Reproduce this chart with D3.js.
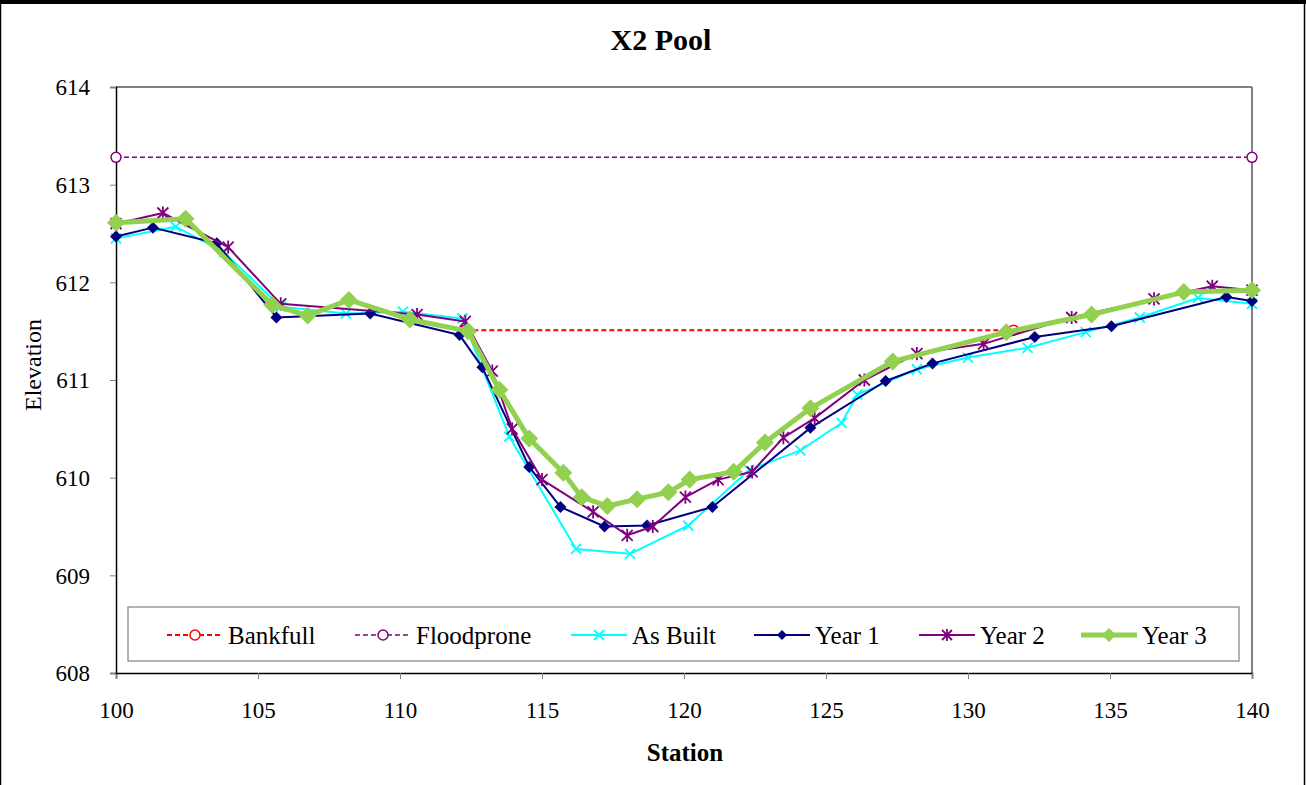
<!DOCTYPE html>
<html>
<head>
<meta charset="utf-8">
<script src="https://cdn.jsdelivr.net/npm/d3@7"></script>
<style>
  html, body { margin: 0; padding: 0; background: #fff; }
  svg { display: block; }
  text { font-family: "Liberation Serif", "Times New Roman", serif; fill: #000; }
</style>
</head>
<body>
<svg id="chart" width="1306" height="785"></svg>
<script>
// Cross-section survey, X2 Pool: station (ft) vs elevation (ft)
const xTicks = [100, 105, 110, 115, 120, 125, 130, 135, 140];
const yTicks = [608, 609, 610, 611, 612, 613, 614];

const bankfullStation = [112.3, 131.6];
const bankfullElev    = [611.51, 611.51];

const floodproneStation = [100, 140];
const floodproneElev    = [613.28, 613.28];

const asBuiltStation = [100, 102.1, 103.8, 105.8, 108.1, 110.1, 112.2, 113.85, 116.2, 118.1, 120.15, 122.3, 124.1, 125.55, 126.1, 128.2, 130.0, 132.1, 134.15, 136.05, 138.1, 140];
const asBuiltElev    = [612.45, 612.57, 612.31, 611.75, 611.68, 611.70, 611.63, 610.42, 609.27, 609.22, 609.51, 610.08, 610.28, 610.56, 610.85, 611.11, 611.23, 611.33, 611.49, 611.64, 611.84, 611.78];

const year1Station = [100, 101.3, 103.55, 105.65, 108.95, 112.1, 112.9, 114.55, 115.65, 117.2, 118.7, 121.0, 124.45, 127.1, 128.75, 132.35, 135.05, 139.1, 140];
const year1Elev    = [612.47, 612.56, 612.40, 611.64, 611.68, 611.46, 611.13, 610.11, 609.70, 609.50, 609.51, 609.70, 610.51, 610.99, 611.17, 611.44, 611.55, 611.85, 611.81];

const year2Station = [100, 101.65, 103.95, 105.8, 110.6, 112.3, 113.25, 113.95, 115.0, 116.8, 118.0, 118.9, 120.05, 121.2, 122.4, 123.5, 124.6, 126.35, 128.2, 130.55, 133.65, 136.55, 138.6, 140];
const year2Elev    = [612.60, 612.71, 612.36, 611.78, 611.67, 611.60, 611.09, 610.50, 609.98, 609.65, 609.41, 609.50, 609.80, 609.98, 610.06, 610.41, 610.61, 611.00, 611.27, 611.37, 611.64, 611.83, 611.96, 611.92];

const year3Station = [100, 102.45, 105.5, 106.75, 108.2, 110.35, 112.4, 113.5, 114.55, 115.75, 116.4, 117.3, 118.35, 119.45, 120.2, 121.75, 122.85, 124.45, 127.35, 131.35, 134.35, 137.6, 140];
const year3Elev    = [612.61, 612.65, 611.77, 611.66, 611.82, 611.62, 611.50, 610.90, 610.40, 610.05, 609.80, 609.71, 609.78, 609.85, 609.98, 610.06, 610.36, 610.71, 611.19, 611.49, 611.67, 611.90, 611.92];

const seriesNames = ["Bankfull", "Floodprone", "As Built", "Year 1", "Year 2", "Year 3"];

const zip = (xs, ys) => xs.map((s, i) => ({ s, v: ys[i] }));

const series = [
  { name: seriesNames[0], data: zip(bankfullStation, bankfullElev), color: "#FF0000", width: 2, dash: "5,3", marker: "circle", size: 5 },
  { name: seriesNames[1], data: zip(floodproneStation, floodproneElev), color: "#800080", width: 1.5, dash: "5,3", marker: "circle", size: 5 },
  { name: seriesNames[2], data: zip(asBuiltStation, asBuiltElev), color: "#00FFFF", width: 2, dash: null, marker: "x", size: 5 },
  { name: seriesNames[3], data: zip(year1Station, year1Elev), color: "#000080", width: 2, dash: null, marker: "diamond", size: 6 },
  { name: seriesNames[4], data: zip(year2Station, year2Elev), color: "#800080", width: 2, dash: null, marker: "star", size: 5.5 },
  { name: seriesNames[5], data: zip(year3Station, year3Elev), color: "#92D050", width: 5, dash: null, marker: "diamond", size: 9 }
];

const svg = d3.select("#chart");
const W = 1306, H = 785;
const plot = { left: 116, right: 1252, top: 87, bottom: 673 };

const x = d3.scaleLinear().domain([100, 140]).range([plot.left, plot.right]);
const y = d3.scaleLinear().domain([608, 614]).range([plot.bottom, plot.top]);

// outer frame
svg.append("rect").attr("x", 0).attr("y", 0).attr("width", W).attr("height", H).attr("fill", "#fff");
svg.append("rect").attr("x", 0).attr("y", 0).attr("width", W).attr("height", 4).attr("fill", "#000");
svg.append("line").attr("x1", 0.5).attr("x2", 0.5).attr("y1", 0).attr("y2", H).attr("stroke", "#000").attr("stroke-width", 1.5);
svg.append("line").attr("x1", W - 1.5).attr("x2", W - 1.5).attr("y1", 0).attr("y2", H).attr("stroke", "#000").attr("stroke-width", 1.5);

// plot area frame (top and right in gray)
svg.append("line").attr("x1", plot.left).attr("x2", plot.right).attr("y1", plot.top).attr("y2", plot.top)
  .attr("stroke", "#808080").attr("stroke-width", 2);
svg.append("line").attr("x1", plot.right).attr("x2", plot.right).attr("y1", plot.top).attr("y2", plot.bottom)
  .attr("stroke", "#808080").attr("stroke-width", 2);

// axes
const xAxis = d3.axisBottom(x).tickValues(xTicks).tickSize(6).tickPadding(23).tickFormat(d3.format("d"));
const yAxis = d3.axisLeft(y).tickValues(yTicks).tickSize(6).tickPadding(20).tickFormat(d3.format("d"));

const gx = svg.append("g").attr("transform", `translate(0,${plot.bottom})`).call(xAxis);
const gy = svg.append("g").attr("transform", `translate(${plot.left},0)`).call(yAxis);
[gx, gy].forEach(g => {
  g.select(".domain").attr("stroke", "#000").attr("stroke-width", 1.5);
  g.selectAll(".tick line").attr("stroke", "#808080").attr("stroke-width", 1);
  g.selectAll(".tick text").attr("font-size", 23).attr("font-family", "Liberation Serif, serif").attr("fill", "#000");
});
gy.selectAll(".tick text").attr("dy", "0.34em");

// titles
svg.append("text").attr("x", (plot.left + plot.right) / 2 - 23).attr("y", 50).attr("text-anchor", "middle")
  .attr("font-size", 30).attr("font-weight", "bold").text("X2 Pool");
svg.append("text").attr("x", (plot.left + plot.right) / 2 + 1).attr("y", 761).attr("text-anchor", "middle")
  .attr("font-size", 25).attr("font-weight", "bold").text("Station");
svg.append("text").attr("transform", `translate(41,${(plot.top + plot.bottom) / 2 - 15}) rotate(-90)`)
  .attr("text-anchor", "middle").attr("font-size", 24).text("Elevation");

// marker drawing
function drawMarker(g, type, size, color) {
  if (type === "circle") {
    g.append("circle").attr("r", size).attr("fill", "#fff").attr("stroke", color).attr("stroke-width", 1.5);
  } else if (type === "diamond") {
    g.append("path").attr("d", `M0,${-size}L${size},0L0,${size}L${-size},0Z`).attr("fill", color);
  } else if (type === "x") {
    g.append("path").attr("d", `M${-size},${-size}L${size},${size}M${-size},${size}L${size},${-size}`)
      .attr("stroke", color).attr("stroke-width", 1.8).attr("fill", "none");
  } else if (type === "star") {
    g.append("path").attr("d", `M${-size},${-size}L${size},${size}M${-size},${size}L${size},${-size}M0,${-size * 1.2}L0,${size * 1.2}`)
      .attr("stroke", color).attr("stroke-width", 1.8).attr("fill", "none");
  }
}

const line = d3.line().x(d => x(d.s)).y(d => y(d.v));

series.forEach(sr => {
  const g = svg.append("g");
  g.append("path").datum(sr.data).attr("d", line).attr("fill", "none")
    .attr("stroke", sr.color).attr("stroke-width", sr.width)
    .attr("stroke-dasharray", sr.dash).attr("stroke-linejoin", "round");
  g.selectAll(".m").data(sr.data).enter().append("g")
    .attr("transform", d => `translate(${x(d.s)},${y(d.v)})`)
    .each(function () { drawMarker(d3.select(this), sr.marker, sr.size, sr.color); });
});

// legend
const legend = svg.append("g");
legend.append("rect").attr("x", 128).attr("y", 607).attr("width", 1111).attr("height", 54)
  .attr("fill", "#fff").attr("stroke", "#808080").attr("stroke-width", 1.2);
const legendX = [167, 355, 571, 754, 919, 1081];
series.forEach((sr, i) => {
  const lx = legendX[i], ly = 635;
  const item = legend.append("g");
  item.append("line").attr("x1", lx).attr("x2", lx + 56).attr("y1", ly).attr("y2", ly)
    .attr("stroke", sr.color).attr("stroke-width", sr.width).attr("stroke-dasharray", sr.dash);
  const mg = item.append("g").attr("transform", `translate(${lx + 28},${ly})`);
  drawMarker(mg, sr.marker, sr.name === "Year 3" ? 7 : (sr.marker === "circle" ? 5 : 5), sr.color);
  item.append("text").attr("x", lx + 61).attr("y", ly).attr("dy", "0.35em")
    .attr("font-size", 25).text(sr.name);
});
</script>
</body>
</html>
